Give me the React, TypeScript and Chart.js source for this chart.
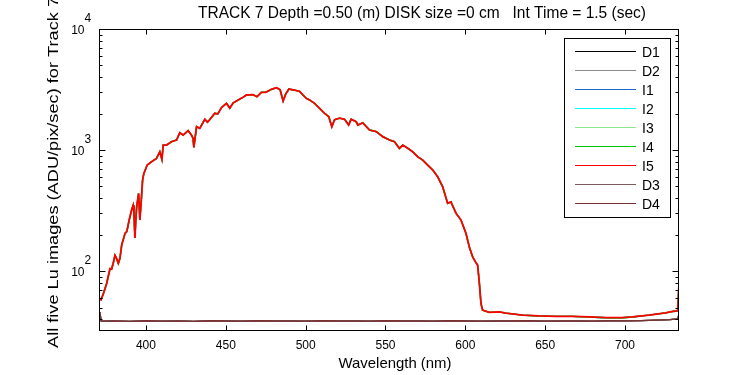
import { useEffect, useRef } from "react";
import { Chart, registerables } from "chart.js";
Chart.register(...registerables);

// Wavelengths (nm) of the readings of the bright Lu images (I1–I5)
const brightWavelengths = [
  370.6, 371.9, 373.3, 375.4, 377.5, 378.5, 379.5, 380.6, 381.5, 382.7, 383.7, 384.8, 386.9, 388, 389.5,
  391, 392, 392.5, 393.1, 393.6, 394.2, 395.4, 396.2, 397.3, 397.9, 398.7, 400.8, 403.5, 406.6, 408.7,
  410, 410.8, 412.9, 416, 419.2, 421.2, 423.3, 426.4, 428.5, 429.5, 430, 431.7, 433.7, 436.9, 438.5,
  439.9, 443.1, 445, 447.3, 450.4, 452.5, 454.6, 457.7, 460.8, 463, 467, 469.5, 472.3, 475, 478.5,
  481.7, 484, 485.9, 487.5, 489.5, 493, 496.2, 498.3, 500.4, 502.5, 505.6, 508.7, 511.9, 514.5, 516.4,
  518.1, 521.2, 524.4, 526.9, 528.5, 531.7, 532.7, 535.8, 540, 544.2, 548.3, 552.5, 555.6, 558.7, 560.8,
  564, 567, 570.2, 573.3, 576.4, 579.6, 582.7, 585.8, 588.9, 591, 594.2, 597.3, 600.4, 602.5, 604.6,
  606.7, 607.7, 608.7, 609.8, 610.8, 615, 621.2, 625.4, 635.8, 646.2, 656.7, 667, 677.5, 688, 698.3,
  704.6, 715, 725.4, 730.6, 733, 733.8,
];
// ADU/pix/sec (top, red curve)
const brightLevels = [
  60, 58, 65, 79, 105, 104, 116, 135, 128, 116, 127, 164, 205, 212, 264,
  319, 350, 300, 188, 260, 340, 438, 264, 425, 565, 641, 752, 800, 853, 968,
  837, 1099, 1099, 1172, 1211, 1391, 1330, 1446, 1330, 1250, 1052, 1560, 1510, 1795, 1700,
  1780, 2010, 1990, 2240, 2432, 2220, 2450, 2588, 2730, 2850, 2870, 2760, 3000, 3000, 3175,
  3270, 3150, 2540, 2900, 3190, 3130, 3050, 2850, 2673, 2590, 2430, 2214, 2010, 1883, 1560,
  1780, 1835, 1795, 1611, 1795, 1713, 1611, 1680, 1463, 1420, 1290, 1211, 1172, 1033, 1099,
  1033, 968, 881, 826, 752, 684, 601, 498, 363, 373, 300, 264, 205, 158, 131,
  117, 112, 82, 54, 47.6, 45.6, 46, 45, 43.3, 42.6, 42.3, 42.3, 41.8, 41.2, 41.2,
  41.8, 43.3, 45.2, 46.6, 47, 79,
];

// Dark images (D1–D4)
const darkWavelengths = [
  370.6, 371.2, 372, 380, 390, 400, 410, 420, 430, 440, 450, 460, 470, 480, 490, 500, 510, 520, 530,
  540, 550, 560, 570, 580, 590, 600, 610, 620, 630, 640, 650, 660, 670, 680, 690, 700, 710, 720, 728,
  733, 733.8,
];
const darkLevels = [
  46, 45, 38.6, 38.8, 38.5, 38.9, 38.6, 38.8, 38.5, 38.9, 38.7, 38.6, 38.9, 38.7, 38.8, 38.6, 38.9, 38.7,
  38.8, 38.6, 38.9, 38.7, 38.8, 38.6, 38.9, 38.7, 38.6, 38.8, 38.7, 38.9, 38.6, 38.8, 38.7, 38.6, 38.9,
  38.8, 39, 39.3, 39.7, 40.3, 44,
];

const seriesNames = ["D1", "D2", "I1", "I2", "I3", "I4", "I5", "D3", "D4"];
const seriesColors = [
  "#000000", "#8c8c8c", "#1f6bd1", "#00ffff", "#8ce68c", "#00c800", "#ff0000", "#7f5a5a", "#7a3030",
];

const xTicks = [400, 450, 500, 550, 600, 650, 700];
const yDecades = [100, 1000, 10000];
const yExponents = ["2", "3", "4"];
const yMinor = [40, 50, 60, 70, 80, 90, 200, 300, 400, 500, 600, 700, 800, 900, 2000, 3000, 4000, 5000, 6000, 7000, 8000, 9000];

const titleText = "TRACK 7 Depth =0.50 (m) DISK size =0 cm   Int Time = 1.5 (sec)";
const xTitle = "Wavelength (nm)";
const yTitle = "All five Lu images (ADU/pix/sec) for Track 7";

const FONT = "'Liberation Sans', Arial, sans-serif";

function drawText(
  ctx: CanvasRenderingContext2D,
  text: string,
  x: number,
  y: number,
  size: number,
  align: CanvasTextAlign,
  targetWidth?: number,
) {
  ctx.save();
  ctx.font = `${size}px ${FONT}`;
  ctx.fillStyle = "#000";
  ctx.textBaseline = "alphabetic";
  let sx = 1;
  if (targetWidth) {
    const w = ctx.measureText(text).width;
    sx = targetWidth / w;
  }
  ctx.translate(x, y);
  ctx.scale(sx, 1);
  ctx.textAlign = align;
  ctx.fillText(text, 0, 0);
  ctx.restore();
}

const framePlugin = {
  id: "matlabFrame",
  afterDraw(chart: any) {
    const ctx: CanvasRenderingContext2D = chart.ctx;
    const a = chart.chartArea;
    const xs = chart.scales.x;
    const ys = chart.scales.y;
    const L = Math.round(a.left) + 0.5;
    const R = Math.round(a.right) - 0.5;
    const T = Math.round(a.top) + 0.5;
    const B = Math.round(a.bottom) - 0.5;

    ctx.save();
    ctx.strokeStyle = "#000";
    ctx.lineWidth = 1;
    ctx.beginPath();
    for (const v of xTicks) {
      const px = Math.round(xs.getPixelForValue(v)) + 0.5;
      ctx.moveTo(px, B);
      ctx.lineTo(px, B - 5);
      ctx.moveTo(px, T);
      ctx.lineTo(px, T + 5);
    }
    for (const v of yDecades) {
      const py = Math.round(ys.getPixelForValue(v)) + 0.5;
      ctx.moveTo(L, py);
      ctx.lineTo(L + 6, py);
      ctx.moveTo(R, py);
      ctx.lineTo(R - 6, py);
    }
    for (const v of yMinor) {
      const py = Math.round(ys.getPixelForValue(v)) + 0.5;
      ctx.moveTo(L, py);
      ctx.lineTo(L + 3, py);
      ctx.moveTo(R, py);
      ctx.lineTo(R - 3, py);
    }
    ctx.stroke();
    ctx.strokeRect(L, T, R - L, B - T);

    // legend
    const lx = 564.5, ly = 38.5, lw = 106, lh = 179;
    ctx.fillStyle = "#fff";
    ctx.fillRect(lx, ly, lw, lh);
    ctx.strokeStyle = "#000";
    ctx.strokeRect(lx, ly, lw, lh);
    seriesNames.forEach((name, i) => {
      const cy = 51.5 + i * 19;
      ctx.strokeStyle = seriesColors[i];
      ctx.beginPath();
      ctx.moveTo(575, cy);
      ctx.lineTo(636, cy);
      ctx.stroke();
      drawText(ctx, name, 642, cy + 5, 14, "left");
    });
    ctx.restore();

    for (const v of xTicks) {
      drawText(ctx, String(v), xs.getPixelForValue(v), 349, 12, "center");
    }
    yDecades.forEach((v, i) => {
      const py = ys.getPixelForValue(v);
      drawText(ctx, "10", 84.5, py + 4.5, 12, "right");
      drawText(ctx, yExponents[i], 84.5, py - 7.3, 12, "left");
    });

    drawText(ctx, titleText, 422, 17.5, 16, "center", 448);
    drawText(ctx, xTitle, 395, 368, 15, "center", 113);
    ctx.save();
    ctx.translate(58, 348);
    ctx.rotate(-Math.PI / 2);
    drawText(ctx, yTitle, 0, 0, 15, "left", 351);
    ctx.restore();
  },
};

export default function App() {
  const ref = useRef<HTMLCanvasElement | null>(null);
  useEffect(() => {
    document.body.style.margin = "0";
    const bright = brightWavelengths.map((x, i) => ({ x, y: brightLevels[i] }));
    const dark = darkWavelengths.map((x, i) => ({ x, y: darkLevels[i] }));
    const chart = new Chart(ref.current as HTMLCanvasElement, {
      type: "line",
      data: {
        datasets: seriesNames.map((name, i) => {
          const isBright = name.startsWith("I");
          return {
            label: name,
            data: isBright ? bright : dark,
            borderColor: seriesColors[i],
            backgroundColor: seriesColors[i],
            borderWidth: name === "I5" ? 1.8 : isBright ? 1.4 : 1.3,
            pointRadius: 0,
            tension: 0,
            // later series are drawn on top, as in the reference
            order: seriesNames.length - i,
          };
        }),
      },
      options: {
        animation: false,
        responsive: false,
        maintainAspectRatio: false,
        layout: { padding: { left: 99, right: 71, top: 29, bottom: 44 } },
        plugins: {
          legend: { display: false },
          tooltip: { enabled: false },
          title: { display: false },
        },
        scales: {
          x: { type: "linear", min: 370.6, max: 733.8, display: false },
          y: { type: "logarithmic", min: 32, max: 10000, display: false },
        },
      },
      plugins: [framePlugin],
    });
    return () => chart.destroy();
  }, []);
  return (
    <div style={{ width: 750, height: 375, background: "#fff" }}>
      <canvas ref={ref} width={750} height={375} style={{ display: "block" }} />
    </div>
  );
}
